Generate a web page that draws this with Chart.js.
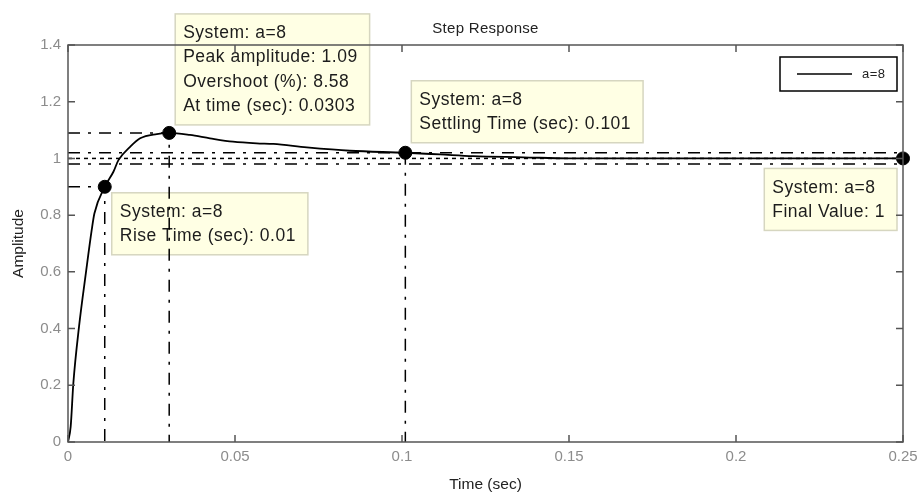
<!DOCTYPE html>
<html>
<head>
<meta charset="utf-8">
<title>Step Response</title>
<script src="https://cdn.jsdelivr.net/npm/chart.js@4.4.1/dist/chart.umd.min.js"></script>
<style>
  html, body { margin: 0; padding: 0; background: #fff; }
  #wrap { width: 919px; height: 497px; position: relative; }
</style>
</head>
<body>
<div id="wrap"><canvas id="step-graph"></canvas></div>
<script>
// Step response of system a=8
const timeSec = [0, 0.0008, 0.0016, 0.0033, 0.0054, 0.0071, 0.0079, 0.011, 0.0136, 0.0151, 0.0186,
  0.0216, 0.0266, 0.0303, 0.0365, 0.0425, 0.0494, 0.0565, 0.0615, 0.0715, 0.0844, 0.101,
  0.1114, 0.1213, 0.1363, 0.15, 0.2, 0.25];
const amplitude = [0, 0.054, 0.207, 0.407, 0.6, 0.748, 0.806, 0.9, 0.953, 0.994, 1.041,
  1.071, 1.086, 1.09, 1.083, 1.071, 1.059, 1.053, 1.051, 1.039, 1.027, 1.02,
  1.014, 1.008, 1.004, 1.0, 1.0, 1.0];

const xTicks = [0, 0.05, 0.1, 0.15, 0.2, 0.25];
const xTickLabels = ["0", "0.05", "0.1", "0.15", "0.2", "0.25"];
const yTicks = [0, 0.2, 0.4, 0.6, 0.8, 1, 1.2, 1.4];
const yTickLabels = ["0", "0.2", "0.4", "0.6", "0.8", "1", "1.2", "1.4"];

// Characteristic points: rise, peak, settling, final
const markerTimes = [0.011, 0.0303, 0.101, 0.25];
const markerValues = [0.9, 1.09, 1.02, 1];
const tipTexts = [
  ["System: a=8", "Rise Time (sec): 0.01"],
  ["System: a=8", "Peak amplitude: 1.09", "Overshoot (%): 8.58", "At time (sec): 0.0303"],
  ["System: a=8", "Settling Time (sec): 0.101"],
  ["System: a=8", "Final Value: 1"],
];
const finalValue = 1;
const settlingBand = [0.98, 1.02];
const seriesName = "a=8";

const DASH_DOT = [12, 8, 3, 8];
const DOTTED = [4, 4];

function pts(xs, ys) {
  return xs.map((x, i) => ({ x: x, y: ys[i] }));
}

// guide lines built from the characteristic points
const riseGuide = pts([0, markerTimes[0], markerTimes[0]], [markerValues[0], markerValues[0], 0]);
const peakGuide = pts([0, markerTimes[1], markerTimes[1]], [markerValues[1], markerValues[1], 0]);
const settleGuide = pts([markerTimes[2], markerTimes[2]], [markerValues[2], 0]);
const bandUpper = pts([0, 0.25], [settlingBand[1], settlingBand[1]]);
const bandLower = pts([0, 0.25], [settlingBand[0], settlingBand[0]]);
const finalLine = pts([0, 0.25], [finalValue, finalValue]);

function guide(data, dash) {
  return {
    data: data,
    borderColor: "#000",
    borderWidth: 1.5,
    borderDash: dash,
    pointRadius: 0,
    tension: 0,
    fill: false,
  };
}

// where each data tip sits relative to its marker
const tipPlacement = [
  { dx: 7, dy: 6, side: "below", align: "left" },
  { dx: 6, dy: -8, side: "above", align: "left" },
  { dx: 6, dy: -10, side: "above", align: "left" },
  { dx: -6, dy: 10, side: "below", align: "right" },
];

const FONT = "'Liberation Sans', Arial, sans-serif";
Chart.defaults.font.family = FONT;

const matlabLook = {
  id: "matlabLook",
  beforeDatasetsDraw(chart) {
    const { ctx, scales: { x, y } } = chart;
    ctx.save();
    ctx.font = "17.5px " + FONT;
    ctx.letterSpacing = "0.5px";
    ctx.textBaseline = "middle";
    const lineH = 24.5;
    tipTexts.forEach((lines, i) => {
      const px = x.getPixelForValue(markerTimes[i]);
      const py = y.getPixelForValue(markerValues[i]);
      const p = tipPlacement[i];
      const w = Math.max(...lines.map((l) => ctx.measureText(l).width)) + 20;
      const h = lines.length * lineH + 13;
      const left = p.align === "left" ? px + p.dx : px + p.dx - w;
      const top = p.side === "below" ? py + p.dy : py + p.dy - h;
      ctx.fillStyle = "rgb(255,255,228)";
      ctx.fillRect(left, top, w, h);
      ctx.strokeStyle = "rgb(214,214,192)";
      ctx.lineWidth = 1.5;
      ctx.strokeRect(left, top, w, h);
      ctx.fillStyle = "#1c1c1c";
      lines.forEach((l, j) => {
        ctx.fillText(l, left + 8, top + 7 + lineH * (j + 0.5));
      });
    });
    ctx.restore();
  },
  afterDraw(chart) {
    const { ctx, chartArea: a, scales: { x, y } } = chart;
    ctx.save();
    // axes box
    ctx.strokeStyle = "#555";
    ctx.lineWidth = 1.5;
    ctx.strokeRect(a.left, a.top, a.right - a.left, a.bottom - a.top);
    // inward ticks on all four sides
    ctx.beginPath();
    x.ticks.forEach((t) => {
      const px = x.getPixelForValue(t.value);
      ctx.moveTo(px, a.bottom); ctx.lineTo(px, a.bottom - 7);
      ctx.moveTo(px, a.top); ctx.lineTo(px, a.top + 7);
    });
    y.ticks.forEach((t) => {
      const py = y.getPixelForValue(t.value);
      ctx.moveTo(a.left, py); ctx.lineTo(a.left + 7, py);
      ctx.moveTo(a.right, py); ctx.lineTo(a.right - 7, py);
    });
    ctx.stroke();

    // title
    ctx.fillStyle = "#222";
    ctx.font = "15px " + FONT;
    ctx.letterSpacing = "0.3px";
    ctx.textAlign = "center";
    ctx.textBaseline = "middle";
    ctx.fillText("Step Response", (a.left + a.right) / 2, 29);

    // legend box in the upper right corner
    const lw = 117, lh = 34;
    const lx = a.right - 6 - lw, ly = a.top + 12;
    ctx.fillStyle = "#fff";
    ctx.fillRect(lx, ly, lw, lh);
    ctx.strokeStyle = "#000";
    ctx.lineWidth = 1.5;
    ctx.strokeRect(lx, ly, lw, lh);
    ctx.beginPath();
    ctx.moveTo(lx + 17, ly + lh / 2);
    ctx.lineTo(lx + 72, ly + lh / 2);
    ctx.stroke();
    ctx.fillStyle = "#222";
    ctx.font = "13px " + FONT;
    ctx.letterSpacing = "0.5px";
    ctx.textAlign = "left";
    ctx.fillText(seriesName, lx + 82, ly + lh / 2);
    ctx.restore();
  },
};

const ctx = document.getElementById("step-graph").getContext("2d");
const stepChart = new Chart(ctx, {
  type: "line",
  data: {
    datasets: [
      guide(riseGuide, DASH_DOT),
      guide(peakGuide, DASH_DOT),
      guide(settleGuide, DASH_DOT),
      guide(bandUpper, DASH_DOT),
      guide(bandLower, DASH_DOT),
      guide(finalLine, DOTTED),
      {
        label: seriesName,
        data: pts(timeSec, amplitude),
        borderColor: "#000",
        borderWidth: 1.8,
        pointRadius: 0,
        cubicInterpolationMode: "monotone",
        fill: false,
      },
      {
        label: "markers",
        data: pts(markerTimes, markerValues),
        showLine: false,
        clip: false,
        pointRadius: 6.5,
        pointBackgroundColor: "#000",
        pointBorderColor: "#000",
      },
    ],
  },
  options: {
    responsive: true,
    maintainAspectRatio: false,
    animation: false,
    events: [],
    layout: { padding: { top: 45, right: 16, left: 0, bottom: 0 } },
    plugins: {
      legend: { display: false },
      tooltip: { enabled: false },
      title: { display: false },
    },
    scales: {
      x: {
        type: "linear",
        min: 0,
        max: 0.25,
        afterBuildTicks: (s) => { s.ticks = xTicks.map((v) => ({ value: v })); },
        afterFit: (s) => { s.height = 55; s.paddingLeft = 0; s.paddingRight = 0; },
        grid: { display: false, drawTicks: false },
        border: { display: false },
        ticks: {
          padding: 6,
          color: "#8c8c8c",
          font: { size: 15 },
          maxRotation: 0,
          callback: (v, i) => xTickLabels[i],
        },
        title: {
          display: true,
          text: "Time (sec)",
          color: "#222",
          font: { size: 15.5 },
          padding: { top: 0, bottom: 3 },
        },
      },
      y: {
        type: "linear",
        min: 0,
        max: 1.4,
        afterBuildTicks: (s) => { s.ticks = yTicks.map((v) => ({ value: v })); },
        afterFit: (s) => { s.width = 68; },
        grid: { display: false, drawTicks: false },
        border: { display: false },
        ticks: {
          padding: 7,
          color: "#8c8c8c",
          font: { size: 15 },
          callback: (v, i) => yTickLabels[i],
        },
        title: {
          display: true,
          text: "Amplitude",
          color: "#222",
          font: { size: 15.5 },
          padding: { top: 9, bottom: 0 },
        },
      },
    },
  },
  plugins: [matlabLook],
});
</script>
</body>
</html>
